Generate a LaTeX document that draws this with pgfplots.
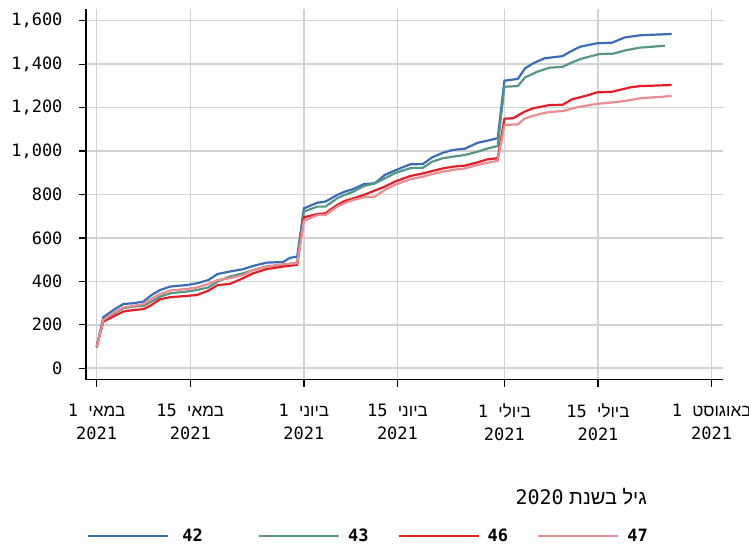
\documentclass[border=0pt]{standalone}
\usepackage{fontspec}
\setmainfont{DejaVu Sans Mono}
\newfontfamily\hebfont[Script=Hebrew]{Liberation Sans}
\usepackage{pgfplots}
\pgfplotsset{compat=1.18}
\TeXXeTstate=1

\definecolor{c42}{HTML}{3A6DB5}
\definecolor{c43}{HTML}{579682}
\definecolor{c46}{HTML}{E31E24}
\definecolor{c47}{HTML}{E98C93}
\definecolor{gridc}{HTML}{D2D2D2}

\newcommand{\heb}[1]{{\hebfont\beginR #1\endR}}

% days counted from 1 May 2021
\pgfplotstableread{
day val
0 100
1 235
2.5 268
4 296
5.5 299
7 307
8.2 337
9.5 360
11 376
13.5 383
15 391
16.7 406
18.1 434
19.9 445
21.9 456
23.4 471
25.4 486
27.9 489
28.9 508
30 514
31 736
33 762
34.2 767
36 798
37.1 813
38.4 825
40 848
41.6 851
43.1 890
44.6 910
46.9 939
48.8 940
50.2 971
51.8 992
53.3 1005
55.1 1011
57 1038
58.5 1048
60 1059
61 1324
63 1332
64.1 1381
65.3 1404
67 1427
69.7 1437
70.8 1457
72.3 1480
74.8 1496
77.1 1499
79 1523
81.3 1533
86 1539
}\tblA

\pgfplotstableread{
day val
0 95
1 225
2.5 250
4 276
5.5 284
7 287
8.2 307
9.5 330
11 345
13.5 353
15 360
16.7 372
18.1 399
19.9 422
21.9 437
23.4 452
25.4 468
27.9 476
30 486
31 721
33 744
34.2 744
36 783
37.1 798
38.4 813
40 839
41.6 851
43.1 874
44.6 898
46.9 921
48.8 923
50.2 951
51.8 967
53.3 974
55.1 982
57 997
58.5 1012
60 1023
61 1296
63 1299
64.1 1339
65.9 1365
67.8 1384
69.7 1388
71.1 1408
72.7 1427
75.3 1447
77.2 1448
79.3 1465
81.3 1476
85 1485
}\tblB

\pgfplotstableread{
day val
0 100
1 215
2.5 238
4 261
5.5 268
7 272
8.2 291
9.5 318
11 327
13.5 333
15 337
16.7 357
18.1 383
19.9 388
21.9 414
23.4 437
25.4 456
27.9 468
30 476
31 695
33 710
34.2 713
36 752
37.1 770
38.4 782
40 798
41.6 818
43.1 836
44.6 859
46.9 885
48.8 897
50.2 908
51.8 920
53.3 928
55.1 933
57 948
58.5 962
60 967
61 1149
62.3 1151
64 1181
65.3 1197
67.8 1212
69.7 1213
71.1 1238
73.5 1257
74.8 1270
77.1 1273
79.8 1293
81.3 1299
86 1304
}\tblC

\pgfplotstableread{
day val
0 100
1 222
2.5 255
4 280
5.5 287
7 295
8.2 320
9.5 342
11 358
13.5 365
15 372
16.7 388
18.1 406
19.9 414
21.9 429
23.4 452
25.4 468
27.9 479
30 483
31 679
33 705
34.2 705
36 744
37.1 760
38.4 775
40 787
41.6 790
43.1 821
44.6 844
46.9 870
48.8 882
50.2 894
51.8 905
53.3 913
55.1 920
57 936
58.5 946
60 955
61 1120
63 1123
64.1 1151
66.3 1171
67.8 1180
69.7 1184
71.8 1201
74.8 1217
78.7 1229
81.3 1243
86 1253
}\tblD

\begin{document}
\begin{tikzpicture}
\useasboundingbox (-86bp,-164.5bp) rectangle (663bp,379.5bp);
\begin{axis}[
  scale only axis,
  width=637bp, height=370.5bp,
  xmin=-1.6, xmax=93.7, ymin=-52, ymax=1654,
  axis x line*=bottom, axis y line*=left,
  axis line style={black, line width=1.3bp},
  grid=major,
  major grid style={draw=gridc, line width=1.5bp},
  tick align=outside,
  major tick length=7bp,
  tick style={black, line width=1.2bp},
  ytick={0,200,...,1600},
  /pgf/number format/1000 sep={,},
  /pgf/number format/assume math mode=true,
  yticklabel style={font=\fontsize{17bp}{20bp}\selectfont, xshift=-13bp},
  xtick={0,14,31,45,61,75,92},
  xticklabels={
    {1 \heb{במאי}\\2021},
    {15 \heb{במאי}\\2021},
    {1 \heb{ביוני}\\2021},
    {15 \heb{ביוני}\\2021},
    {1 \heb{ביולי}\\2021},
    {15 \heb{ביולי}\\2021},
    {1 \heb{באוגוסט}\\2021}},
  xticklabel style={align=center, font=\fontsize{17bp}{23bp}\selectfont, yshift=-14bp},
  legend columns=4,
  legend style={draw=none, fill=none, inner sep=0pt,
    at={(0.0016,-0.4224)}, anchor=west,
    font=\fontsize{17bp}{20bp}\selectfont\bfseries,
    /tikz/every odd column/.append style={column sep=6bp},
    /tikz/every even column/.append style={column sep=27bp}},
  legend image code/.code={\draw[#1] (0bp,0bp) -- (80bp,0bp);},
  every axis plot/.append style={line width=2.2bp},
]
\addplot[c42, no marks] table[x=day, y=val] {\tblA};
\addlegendentry{\rule{5bp}{0pt}42\rule{26bp}{0pt}}
\addplot[c43, no marks] table[x=day, y=val] {\tblB};
\addlegendentry{43}
\addplot[c46, no marks] table[x=day, y=val] {\tblC};
\addlegendentry{46}
\addplot[c47, no marks] table[x=day, y=val] {\tblD};
\addlegendentry{47}
\end{axis}
\node[anchor=east, font=\fontsize{20bp}{24bp}\selectfont, inner sep=0pt]
  at (561bp,-117.5bp) {\hebfont\beginR גיל בשנת \beginL{\normalfont 2020}\endL\endR};
\end{tikzpicture}
\end{document}
